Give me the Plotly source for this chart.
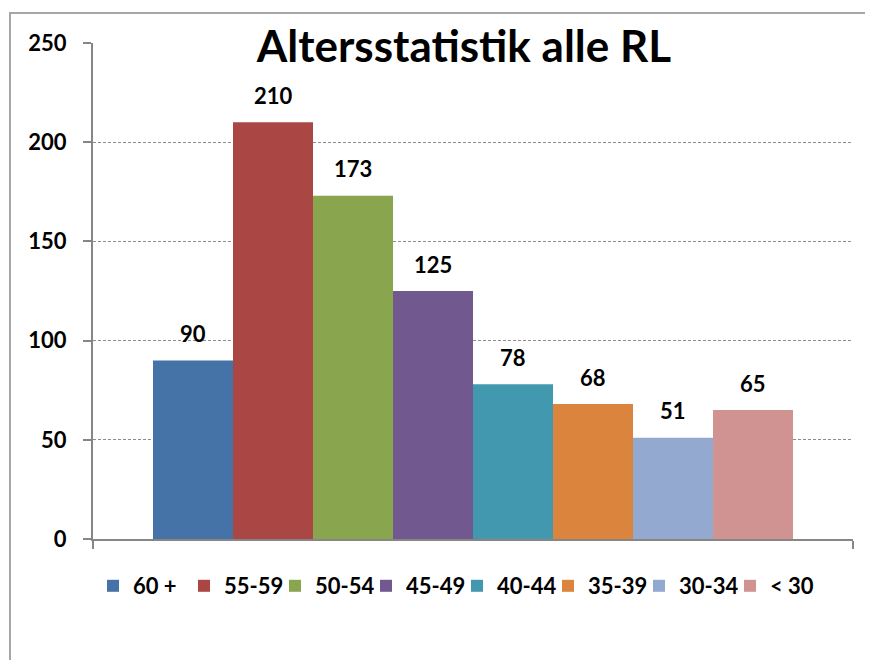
import plotly.graph_objects as go

categories = ["60 +", "55-59", "50-54", "45-49", "40-44", "35-39", "30-34", "< 30"]
values = [90, 210, 173, 125, 78, 68, 51, 65]
colors = ["#4572A7", "#AA4643", "#89A54E", "#71588F", "#4198AF", "#DB843D", "#93A9CF", "#D19392"]
y_ticks = [0, 50, 100, 150, 200, 250]
title_text = "Altersstatistik alle RL"

FONT = "Lato"
OFF = 8  # page body margin
W, H = 873 - OFF, 660 - OFF
ML, MR, MT, MB = 93 - OFF, 20, 43 - OFF, 121

fig = go.Figure()
for i, (cat, val, col) in enumerate(zip(categories, values, colors)):
    fig.add_trace(go.Bar(
        x=[i], y=[val], name=cat, width=1,
        marker=dict(color=col, line=dict(width=0)),
        hoverinfo="name+y",
    ))
    fig.add_annotation(
        x=i, y=val, text=str(val), showarrow=False,
        yanchor="middle", yshift=27,
        font=dict(family=FONT, size=22, color="#000000", weight="bold"),
    )

pw = W - ML - MR
ph = H - MT - MB

# chart border (left and top visible, rest beyond view)
fig.add_shape(type="rect", xref="paper", yref="paper",
              x0=(10 - OFF - ML) / pw, x1=(900 - ML) / pw,
              y0=(H - MB - 700) / ph, y1=(H - MB - (13 - OFF)) / ph,
              line=dict(color="#A6A6A6", width=2), fillcolor="rgba(0,0,0,0)", layer="below")

fig.update_layout(
    width=W, height=H,
    margin=dict(l=ML, r=MR, t=MT, b=MB, pad=0),
    paper_bgcolor="#FFFFFF", plot_bgcolor="#FFFFFF",
    barmode="overlay",
    showlegend=True,
    title=dict(text=title_text, x=(464 - OFF) / W, xanchor="center",
               y=1 - (47 - OFF) / H, yanchor="middle",
               font=dict(family=FONT, size=44, color="#000000", weight="bold")),
    legend=dict(orientation="h", x=(93 - OFF - ML) / pw, xanchor="left",
                y=-(586 - OFF - (H - MB)) / ph, yanchor="middle",
                font=dict(family=FONT, size=22, color="#000000", weight="bold"),
                entrywidth=46, entrywidthmode="pixels",
                itemclick=False, itemdoubleclick=False,
                bgcolor="rgba(0,0,0,0)"),
    font=dict(family=FONT, color="#000000"),
)

fig.update_xaxes(
    range=[-1.25, 8.25], showgrid=False, zeroline=False,
    showline=True, linecolor="#868686", linewidth=2,
    tickmode="array", tickvals=[-1.25, 8.25], ticktext=["", ""],
    ticks="outside", ticklen=8, tickcolor="#868686", tickwidth=2,
    fixedrange=True,
)
fig.update_yaxes(
    range=[0, 250], tickmode="array", tickvals=y_ticks,
    ticktext=[str(t) for t in y_ticks],
    showgrid=True, gridcolor="#8C8C8C", griddash="3px,2px", gridwidth=1,
    zeroline=False, showline=True, linecolor="#868686", linewidth=2,
    ticks="outside", ticklen=8, tickcolor="#868686", tickwidth=2,
    ticklabelstandoff=12,
    tickfont=dict(family=FONT, size=22, color="#000000", weight="bold"),
    fixedrange=True,
)

fig.write_html("out.html")
